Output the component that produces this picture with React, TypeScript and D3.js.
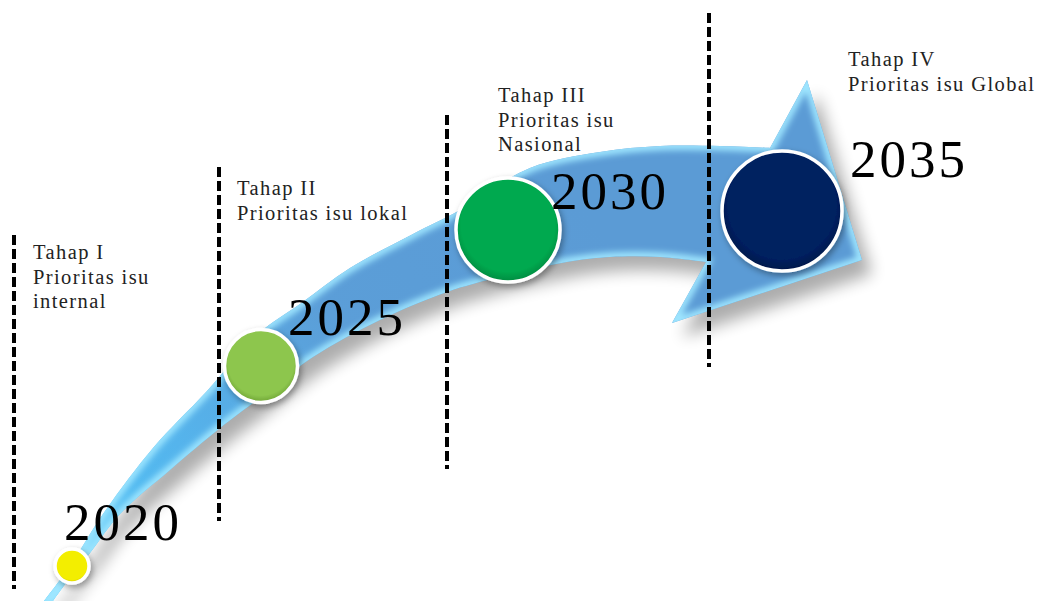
import React from "react";
import * as d3 from "d3";

// ---- data ----
const years = ["2020", "2025", "2030", "2035"];
const stageTitles = ["Tahap I", "Tahap II", "Tahap III", "Tahap IV"];
const stageDescriptions = [
  ["Prioritas isu", "internal"],
  ["Prioritas isu lokal"],
  ["Prioritas isu", "Nasional"],
  ["Prioritas isu Global"],
];
const milestoneColors = ["#f3ee00", "#8dc64e", "#00a94f", "#002060"];
const milestoneDarks = ["#c9c200", "#6ea334", "#008a3f", "#001748"];

// ---- layout ----
const W = 1043;
const H = 601;
const dividerX = [14, 219, 447, 709];
const dividerTop = [235, 167, 115, 13];
const dividerLen = 354;
const labelPos: [number, number][] = [[33, 259], [237, 195], [498, 102], [848, 66]];
const circlePos: [number, number, number][] = [[72, 566, 17], [261, 366, 36.5], [508, 230, 52], [782, 211, 60]];
const yearPos: [number, number][] = [[64, 540], [288, 335], [551, 209], [850, 177]];

const topEdge: [number, number][] = [
  [44, 601], [70, 566], [103, 514], [153, 448], [207, 391], [258, 334], [300, 304],
  [350, 268], [413, 234], [460, 210], [530, 168], [600, 152], [660, 146], [720, 146], [770, 148],
];
const arrowHead: [number, number][] = [[807, 80], [862, 260], [672, 323]];
const bottomEdge: [number, number][] = [
  [706, 262], [660, 257], [610, 257], [573, 261], [520, 272], [473, 284], [447, 292],
  [380, 320], [313, 357], [253, 403], [220, 428], [170, 470], [120, 514], [90, 553], [63, 587], [53, 601],
];

const smooth = d3.line<[number, number]>().x((d) => d[0]).y((d) => d[1]).curve(d3.curveCatmullRom.alpha(0.5));
const straight = d3.line<[number, number]>().x((d) => d[0]).y((d) => d[1]);

const arrowPath =
  (smooth(topEdge) as string) +
  (straight(arrowHead) as string).replace(/^M/, "L") +
  (smooth(bottomEdge) as string).replace(/^M/, "L") +
  "Z";

const serif = "'Liberation Serif', 'DejaVu Serif', serif";

export default function App() {
  return (
    <svg width={W} height={H} viewBox={`0 0 ${W} ${H}`} style={{ position: "absolute", left: 0, top: 0, display: "block", background: "#fff" }}>
      <defs>
        <linearGradient id="shaftGrad" gradientUnits="userSpaceOnUse" x1={50} y1={600} x2={560} y2={180}>
          <stop offset="0" stopColor="#4cc6f7" />
          <stop offset="0.3" stopColor="#55b4ec" />
          <stop offset="0.6" stopColor="#5b9ed8" />
          <stop offset="1" stopColor="#5b9bd5" />
        </linearGradient>
        <filter id="shadowBlur" x="-20%" y="-20%" width="140%" height="140%">
          <feGaussianBlur stdDeviation="8" />
        </filter>
        <filter id="glowBlur" x="-20%" y="-20%" width="140%" height="140%">
          <feGaussianBlur stdDeviation="3" />
        </filter>
        <filter id="circleShadow" x="-30%" y="-30%" width="160%" height="160%">
          <feDropShadow dx="2" dy="3" stdDeviation="3" floodColor="#000" floodOpacity="0.35" />
        </filter>
        <clipPath id="arrowClip">
          <path d={arrowPath} />
        </clipPath>
        {milestoneColors.map((c, i) => (
          <radialGradient key={i} id={`cg${i}`} cx="0.5" cy="0.45" r="0.55">
            <stop offset="0" stopColor={c} />
            <stop offset="0.82" stopColor={c} />
            <stop offset="1" stopColor={milestoneDarks[i]} />
          </radialGradient>
        ))}
      </defs>

      {/* arrow shadow */}
      <path d={arrowPath} fill="#000" opacity={0.32} transform="translate(10,14)" filter="url(#shadowBlur)" />
      {/* arrow */}
      <path d={arrowPath} fill="url(#shaftGrad)" />
      <g clipPath="url(#arrowClip)">
        <path d={arrowPath} fill="none" stroke="#9fe6ff" strokeWidth={9} filter="url(#glowBlur)" />
      </g>

      {/* dashed dividers */}
      {dividerX.map((x, i) => (
        <line key={i} x1={x} x2={x} y1={dividerTop[i]} y2={dividerTop[i] + dividerLen} stroke="#000" strokeWidth={4} strokeDasharray="10 4" />
      ))}

      {/* circles */}
      {circlePos.map(([cx, cy, r], i) => (
        <circle key={i} cx={cx} cy={cy} r={r} fill={`url(#cg${i})`} stroke="#fff" strokeWidth={3.5} filter="url(#circleShadow)" />
      ))}

      {/* year labels */}
      {years.map((y, i) => (
        <text key={y} x={yearPos[i][0]} y={yearPos[i][1]} fontFamily={serif} fontSize={53} letterSpacing={3} fill="#000">
          {y}
        </text>
      ))}

      {/* stage labels */}
      {stageTitles.map((t, i) => (
        <text key={t} fontFamily={serif} fontSize={20.5} letterSpacing={1.4} fill="#222">
          {[t, ...stageDescriptions[i]].map((line, j) => (
            <tspan key={j} x={labelPos[i][0]} y={labelPos[i][1] + j * 24.5}>
              {line}
            </tspan>
          ))}
        </text>
      ))}
    </svg>
  );
}
